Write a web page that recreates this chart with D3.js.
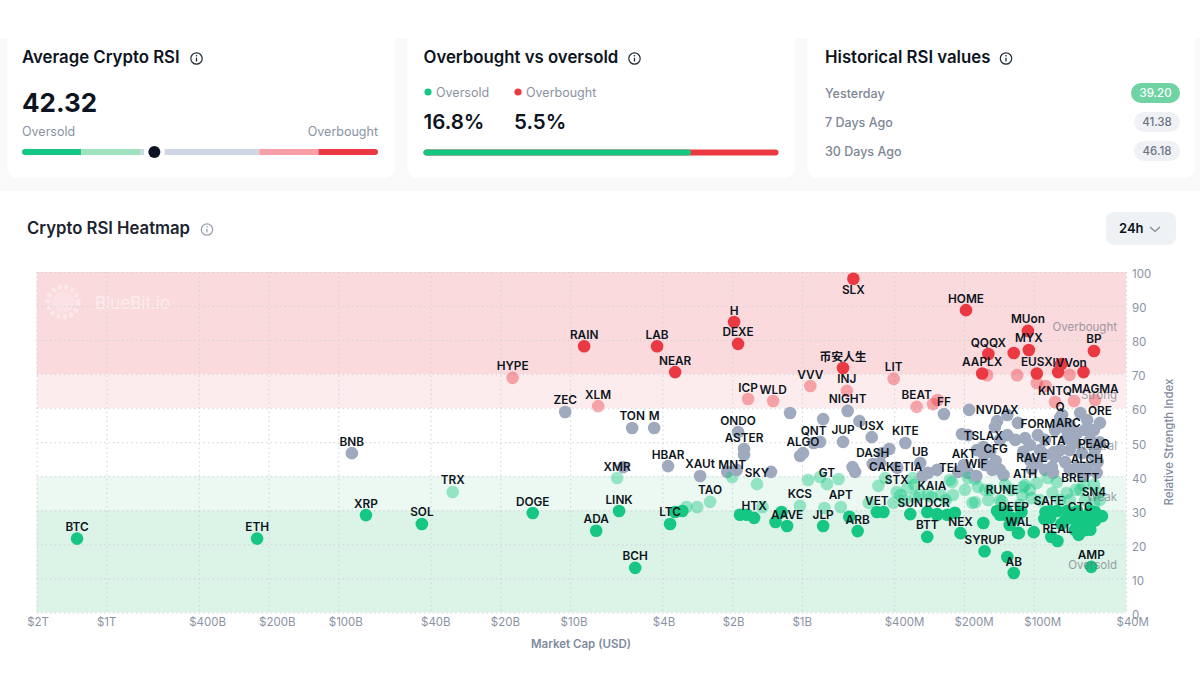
<!DOCTYPE html>
<html>
<head>
<meta charset="utf-8">
<script src="https://cdn.jsdelivr.net/npm/d3@7"></script>
<style>
  html, body { margin: 0; padding: 0; background: #fff; }
  svg { display: block; font-family: Inter, "Noto Sans CJK SC", sans-serif; }
</style>
</head>
<body>
<div id="chart"></div>
<script>
// summary cards
var averageRsi = 42.32;
var gaugeStops = [0, 30, 40, 60, 70, 100];
var gaugeColors = ['#16c784', '#9ee2c0', '#cfd6e4', '#f8a0a8', '#ea3943'];
var oversoldPct = 16.8;
var overboughtPct = 5.5;
var historyLabels = ['Yesterday', '7 Days Ago', '30 Days Ago'];
var historyValues = ['39.20', '41.38', '46.18'];

// axes
var capTicks = [2000000, 1000000, 400000, 200000, 100000, 40000, 20000, 10000, 4000, 2000, 1000, 400, 200, 100, 40];
var capTickLabels = ['$2T', '$1T', '$400B', '$200B', '$100B', '$40B', '$20B', '$10B', '$4B', '$2B', '$1B', '$400M', '$200M', '$100M', '$40M'];
var rsiTicks = [0, 10, 20, 30, 40, 50, 60, 70, 80, 90, 100];

// background bands
var bandFrom = [70, 60, 40, 30, 0];
var bandTo = [100, 70, 60, 40, 30];
var bandNames = ['Overbought', 'Strong', 'Neutral', 'Weak', 'Oversold'];
var bandFills = ['#fbdadd', '#fdecee', '#ffffff', '#ecf8f2', '#dcf3e7'];

// named coins, market cap in $M
var coinNames = ['BTC','ETH','XRP','BNB','SOL','TRX','HYPE','DOGE','ZEC','RAIN','ADA','XLM','XMR','LINK','TON','BCH','M','LAB','HBAR','LTC','NEAR','XAUt','TAO','MNT','H','ONDO','DEXE','ASTER','ICP','HTX','SKY','WLD','AAVE','KCS','ALGO','VVV','QNT','JLP','GT','APT','币安人生','JUP','INJ','NIGHT','SLX','ARB','DASH','USX','VET','CAKE','LIT','STX','KITE','SUN','TIA','BEAT','UB','BTT','KAIA','DCR','FF','TEL','NEX','HOME','AKT','WIF','AAPLX','TSLAX','SYRUP','QQQX','NVDAX','CFG','RUNE','DEEP','AB','WAL','MUon','MYX','ATH','RAVE','EUSX','FORM','SAFE','KTA','KNTQ','REAL','Q','ARC','IVVon','CTC','BRETT','ALCH','AMP','BP','SN4','PEAQ','MAGMA','ORE'];
var coinCaps = [1340000,224000,76000,87400,43600,32100,17700,14500,10500,8700,7720,7570,6270,6150,5400,5240,4340,4215,3780,3704,3524,2750,2490,2000,1962,1886,1886,1777,1707,1608,1562,1331,1159,1020,990,920,890,810,780,680,665,665,640,635,600,575,495,500,475,437,402,390,358,341,333,320,309,288,275,261,244,230,207,196,200,177,167,165,163,157,144,146,137,122,122,116,106,105,109,102,97,96,86,82,81,79,77,71,70,63,63,59,56.5,55,55,55,54.4,51.8];
var coinRsi = [21.7,21.7,28.6,46.8,26,35.4,68.9,29.2,58.9,78.2,24,60.6,39.5,29.8,54.2,13.1,54.2,78.2,43,26,70.6,40.1,32.5,39.8,85.3,53,78.9,48,62.7,27.8,37.7,62.1,25.4,31.3,46.8,66.5,49.8,25.4,37.7,31,71.8,50.1,65.1,59.2,98,23.9,43.6,51.5,29.5,39.5,68.6,35.4,49.8,28.9,39.5,60.4,43.9,22.2,33.9,28.9,58.3,39,23.3,88.8,43.3,40.1,70.2,48.6,18,75.9,56.2,44.5,32.7,27.5,11.6,23.3,82.7,77.1,37.4,42.1,70.2,52.1,29.5,47.1,61.8,21,57.1,52.4,69.8,27.7,36,41.6,13.4,76.8,31.9,46,62.4,55.7];

// unlabelled coins
var otherCaps = [5900,2100,1910,1360,1777,1125,1018,810,565,835,420,450,460,605,590,388,286,261,302,190,204,192,147,130,117,130,120,109,97,164,151,135,192,212,111,104,75.5,77,73.3,63,58.8,55,65,72,66.4,77,81,83.5,82.5,73.3,62,53,65,58.8,53.5,61.2,89.5,
  140,154,176,162,140,104,94,89.5,70,70,57,60,52,70,81,54.4,89.5,
  3150,2830,1480,800,835,940,695,515,468,403,350,286,225,223,192,174,184,157,140,111,97,87,79.5,102,83,72,53,112,61,179,179,162,125,94,70,60,52,252,325,375,240,
  154,133,77,115,104,66,55,198,311,361,327,
  3524,3280,1850,1730,1300,1225,625,445,288,236,261,219,165,117,100,130,90,84,76,64,50.8,58,61,140,144,85,79.5,72,68,62,57,65,113,125,58,89,131,66.4,60,
  85,73,54.4,57,66.4,54.4,127,133,
  122,78.5,61,76,159,118,272,260,97,89,67];
var otherRsi = [42.7,41.3,41.9,41.3,46.3,58.6,46,56.8,56.2,50.1,48,46.8,43.9,42.7,41.3,42.5,41,41.9,40.1,59.5,52.4,52.1,54.5,58,55.7,52.1,50.7,51.2,43.9,46.3,41.9,40.4,41,41.3,47.2,44.8,58,55.7,54.2,58.6,56.5,53.6,52.7,51.2,49.8,47.7,45.7,42.7,41,44.2,46.8,44.2,42.7,42.5,41,40.1,46.3,
  50.7,47.2,47.7,43.3,41.9,49.2,47.7,41.9,47.7,41.9,50.7,53.6,50,55,53.6,47.7,50.7,
  31,31,31,30.7,39.8,38.9,39.2,32.2,37.2,32.2,36.6,34.5,38.3,34.5,39.5,36.9,32.2,33,33,36.9,38,39.5,38.3,33.6,35.1,35.1,35.1,34.5,37.4,39.2,32.4,36,36,33,33,33,33,34.5,33.9,34.5,33,
  36,37.5,33,31.6,36,36,37.5,36,34.5,33,37.5,
  29.5,29.8,28.7,28.7,26.6,29.5,28.1,29.5,29.5,28.7,28.7,29.3,26.3,23.4,23.6,16.3,27.5,22.2,26,22.8,28.3,26,26.3,28.7,29.8,29.8,29.8,29.8,29.2,28.1,29.8,29.8,29.5,27.8,28.3,29.5,29.8,27.2,24.2,
  27.8,27.2,27,24.3,24.3,29.5,25.7,28.7,
  76.2,70.6,70.6,73,69.7,69.7,61.2,62.4,67.4,66.5,62.1];

var dark = '#0d1421';
var muted = '#8a93a3';
var green = '#16c784';
var red = '#ea3943';

var svg = d3.select('#chart').append('svg').attr('width', 1200).attr('height', 675);

// ---- top cards ----
svg.append('rect').attr('x', 0).attr('y', 38).attr('width', 1200).attr('height', 153).attr('fill', '#f9f9fa');
[7, 407, 807].forEach(function(x) {
  svg.append('path')
     .attr('d', 'M' + x + ',30 H' + (x + 388) + ' V168 a10,10 0 0 1 -10,10 H' + (x + 10) + ' a10,10 0 0 1 -10,-10 Z')
     .attr('fill', '#fff');
});
svg.append('rect').attr('x', 0).attr('y', 0).attr('width', 1200).attr('height', 38).attr('fill', '#fff');

function text(x, y, str, size, weight, color, anchor) {
  return svg.append('text').attr('x', x).attr('y', y).text(str)
     .attr('font-size', size).attr('font-weight', weight).attr('fill', color)
     .attr('text-anchor', anchor || 'start');
}

function infoIcon(cx, cy, color) {
  var g = svg.append('g').attr('transform', 'translate(' + cx + ',' + cy + ')');
  g.append('circle').attr('r', 5.7).attr('fill', 'none').attr('stroke', color).attr('stroke-width', 1.2);
  g.append('line').attr('y1', -0.8).attr('y2', 3).attr('stroke', color).attr('stroke-width', 1.3);
  g.append('circle').attr('cy', -2.8).attr('r', 0.8).attr('fill', color);
}

// card 1
text(22, 63, 'Average Crypto RSI', 16.8, 600, dark);
infoIcon(196.5, 58.5, '#222b38');
text(22, 112, averageRsi.toFixed(2), 26, 700, dark);
text(22, 136, 'Oversold', 12.5, 400, muted);
text(378, 136, 'Overbought', 12.5, 400, muted, 'end');

var gaugeX = d3.scaleLinear().domain(gaugeStops).range([22, 81.3, 140.6, 259.2, 318.5, 378]);
svg.append('clipPath').attr('id', 'gaugeClip').append('rect')
   .attr('x', 22).attr('y', 149).attr('width', 356).attr('height', 6).attr('rx', 3);
svg.append('g').attr('clip-path', 'url(#gaugeClip)')
   .selectAll('rect').data(gaugeColors).enter().append('rect')
   .attr('x', function(d, i) { return gaugeX(gaugeStops[i]); })
   .attr('y', 149).attr('height', 6)
   .attr('width', function(d, i) { return gaugeX(gaugeStops[i + 1]) - gaugeX(gaugeStops[i]); })
   .attr('fill', function(d) { return d; });
svg.append('circle').attr('cx', gaugeX(averageRsi)).attr('cy', 152).attr('r', 10.5).attr('fill', '#fff');
svg.append('circle').attr('cx', gaugeX(averageRsi)).attr('cy', 152).attr('r', 6).attr('fill', dark);

// card 2
text(423.5, 63, 'Overbought vs oversold', 16.8, 600, dark);
infoIcon(634.5, 58.5, '#222b38');
svg.append('circle').attr('cx', 428).attr('cy', 92).attr('r', 3.6).attr('fill', green);
text(436, 96.5, 'Oversold', 12.5, 400, muted);
svg.append('circle').attr('cx', 518).attr('cy', 92).attr('r', 3.6).attr('fill', red);
text(526, 96.5, 'Overbought', 12.5, 400, muted);
text(423.5, 129, oversoldPct + '%', 20.5, 600, dark);
text(514, 129, overboughtPct + '%', 20.5, 600, dark);

var splitX = d3.scaleLinear().domain([0, oversoldPct + overboughtPct]).range([423.5, 778.5]);
svg.append('rect').attr('x', splitX(0)).attr('y', 149.5).attr('height', 6).attr('rx', 3)
   .attr('width', splitX(oversoldPct + overboughtPct) - splitX(0)).attr('fill', red);
svg.append('rect').attr('x', splitX(0)).attr('y', 149.5).attr('height', 6).attr('rx', 3)
   .attr('width', splitX(oversoldPct) - splitX(0)).attr('fill', green);

// card 3
text(825, 63, 'Historical RSI values', 16.8, 600, dark);
infoIcon(1006, 58.5, '#222b38');
historyLabels.forEach(function(label, i) {
  var rowY = 93 + i * 29;
  text(825, rowY + 4.5, label, 12.5, 500, '#7d8695');
  var w = i === 0 ? 49 : 46;
  svg.append('rect').attr('x', 1180 - w).attr('y', rowY - 10).attr('width', w).attr('height', 20).attr('rx', 10)
     .attr('fill', i === 0 ? '#6fd3a3' : '#eff1f5');
  text(1180 - w / 2, rowY + 4, historyValues[i], 11.5, 500, i === 0 ? '#fff' : '#6b7485', 'middle');
});

// ---- heatmap header ----
text(27, 234, 'Crypto RSI Heatmap', 16.7, 600, '#1c2430');
infoIcon(207, 229.5, '#9aa2af');
svg.append('rect').attr('x', 1106).attr('y', 212).attr('width', 70).attr('height', 33).attr('rx', 8).attr('fill', '#eff2f5');
text(1119, 233, '24h', 13, 600, dark);
svg.append('path').attr('d', 'M1150,227 l5,4.5 l5,-4.5').attr('fill', 'none').attr('stroke', '#7d8695').attr('stroke-width', 1.2);

// ---- scatter ----
var x = d3.scaleLog().domain([2000000, 40]).range([36.7, 1126]);
var y = d3.scaleLinear().domain([0, 100]).range([612.5, 272]);

svg.selectAll('rect.band').data(bandFills).enter().append('rect').attr('class', 'band')
   .attr('x', x(2000000)).attr('width', x(40) - x(2000000))
   .attr('y', function(d, i) { return y(bandTo[i]); })
   .attr('height', function(d, i) { return y(bandFrom[i]) - y(bandTo[i]); })
   .attr('fill', function(d) { return d; });

// watermark
var mark = svg.append('g').attr('transform', 'translate(63,302)').attr('fill', 'none').attr('stroke', '#fff').attr('opacity', 0.4);
mark.append('circle').attr('r', 15).attr('stroke-width', 5).attr('stroke-dasharray', '4 2.5');
mark.append('circle').attr('r', 11).attr('fill', '#fff').attr('stroke', 'none').attr('opacity', 0.6);
svg.append('text').attr('x', 95).attr('y', 309).text('BlueBit.io')
   .attr('font-size', 17).attr('fill', '#fff').attr('opacity', 0.5);

function styleGrid(g) {
  g.select('.domain').remove();
  g.selectAll('line').attr('stroke', '#cfd2d6').attr('stroke-width', 1).attr('stroke-dasharray', '1.5 3');
  g.selectAll('text').attr('fill', '#8a93a3').attr('font-size', 11.5).attr('font-family', 'Inter');
}

var xAxis = d3.axisBottom(x).tickValues(capTicks)
   .tickFormat(function(d, i) { return capTickLabels[i]; })
   .tickSize(y(0) - y(100)).tickPadding(5);
var gx = svg.append('g').attr('transform', 'translate(0,' + y(100) + ')').call(xAxis).call(styleGrid);
gx.selectAll('text').attr('text-anchor', 'start').attr('dx', -10);

var yAxis = d3.axisRight(y).tickValues(rsiTicks)
   .tickSize(x(40) - x(2000000)).tickPadding(6);
var gy = svg.append('g').attr('transform', 'translate(' + x(2000000) + ',0)').call(yAxis).call(styleGrid);
gy.selectAll('text').attr('dy', '0.5em');

text(581, 648, 'Market Cap (USD)', 11.5, 600, '#7f8aa0', 'middle');
svg.append('text').attr('transform', 'translate(1172.5,442) rotate(-90)').attr('text-anchor', 'middle')
   .text('Relative Strength Index').attr('font-size', 11.5).attr('font-weight', 500).attr('fill', '#7f8aa0');

var dotFill = d3.scaleThreshold().domain([30, 40, 60, 70])
   .range(['#16c784', 'rgba(22,199,132,0.42)', '#a0aabf', 'rgba(234,57,67,0.42)', '#ea3943']);

var dots = coinCaps.map(function(cap, i) { return { cap: cap, rsi: coinRsi[i], name: coinNames[i] }; })
   .concat(otherCaps.map(function(cap, i) { return { cap: cap, rsi: otherRsi[i], name: '' }; }))
   .sort(function(a, b) { return b.cap - a.cap; });

svg.selectAll('circle.dot').data(dots).enter().append('circle').attr('class', 'dot')
   .attr('cx', function(d) { return x(d.cap); })
   .attr('cy', function(d) { return y(d.rsi); })
   .attr('r', 6.3)
   .attr('fill', function(d) { return dotFill(d.rsi); });

svg.selectAll('text.bandname').data(bandNames).enter().append('text').attr('class', 'bandname')
   .attr('x', 1117)
   .attr('y', function(d, i) { return y((bandFrom[i] + bandTo[i]) / 2) + 8; })
   .attr('text-anchor', 'end').attr('font-size', 11.5).attr('fill', '#6b7280').attr('opacity', 0.65)
   .text(function(d) { return d; });

svg.selectAll('text.coin').data(dots.filter(function(d) { return d.name; })).enter().append('text').attr('class', 'coin')
   .attr('x', function(d) { return x(d.cap); })
   // SLX sits against the top edge so its label goes underneath
   .attr('y', function(d) { return y(d.rsi) + (d.name === 'SLX' ? 15 : -7.5); })
   .attr('text-anchor', 'middle').attr('font-size', 11.8).attr('font-weight', 600).attr('fill', dark)
   .text(function(d) { return d.name; });
</script>
</body>
</html>
